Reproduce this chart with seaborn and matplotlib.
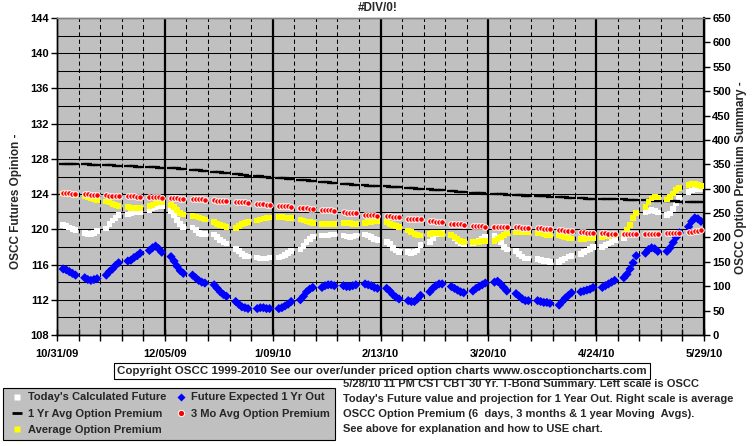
import pandas as pd
import matplotlib
matplotlib.use("Agg")
import matplotlib.pyplot as plt
from matplotlib.lines import Line2D
import seaborn as sns

# trading days, 30 weeks x 5 days
days = pd.bdate_range("2009-11-02", "2010-05-28")

# left scale: Today's Calculated Future (white squares)
calc_future = [
    120.5, 120.4, 120.2, 120.0, 119.9, 119.6, 119.5, 119.5, 119.6, 119.8,
    120.1, 120.6, 121.0, 121.3, 121.6, 121.7, 121.8, 121.9, 122.0, 122.0,
    122.2, 122.4, 122.5, 122.6, 122.6, 122.1, 121.6, 121.1, 120.6, 120.3,
    120.2, 119.9, 119.6, 119.5, 119.5, 119.4, 119.1, 118.8, 118.6, 118.4,
    117.8, 117.5, 117.2, 117.0, 116.9, 116.8, 116.7, 116.7, 116.7, 116.8,
    116.8, 116.9, 117.1, 117.3, 117.5, 117.7, 118.1, 118.6, 118.9, 119.2,
    119.3, 119.3, 119.3, 119.4, 119.4, 119.3, 119.2, 119.1, 119.2, 119.3,
    119.4, 119.3, 119.1, 118.9, 118.8, 118.6, 118.3, 117.9, 117.6, 117.4,
    117.4, 117.3, 117.4, 117.6, 118.2, 118.6, 119.0, 119.5, 119.6, 119.6,
    119.3, 119.0, 118.7, 118.4, 118.3, 118.4, 118.5, 118.7, 118.9, 119.2,
    119.3, 119.0, 118.5, 118.0, 117.7, 117.5, 117.2, 116.9, 116.7, 116.7,
    116.6, 116.5, 116.4, 116.4, 116.3, 116.3, 116.5, 116.7, 116.9, 117.0,
    117.2, 117.4, 117.6, 117.8, 118.0, 118.0, 118.2, 118.4, 118.6, 118.8,
    119.0, 119.5, 120.5, 121.3, 121.8, 122.0, 122.1, 122.2, 122.1, 121.9,
    121.6, 121.8, 122.3, 123.0, 123.6, 124.2, 124.4, 124.6, 124.7, 124.6,
]

# left scale: Future Expected 1 Yr Out (blue diamonds)
future_1yr = [
    115.5, 115.4, 115.2, 115.0, 114.8, 114.5, 114.3, 114.2, 114.3, 114.4,
    114.8, 115.2, 115.5, 115.9, 116.2, 116.4, 116.5, 116.8, 117.0, 117.3,
    117.6, 117.9, 118.1, 117.8, 117.4, 116.9, 116.4, 115.8, 115.3, 115.0,
    114.8, 114.5, 114.2, 114.0, 113.9, 113.7, 113.3, 112.9, 112.6, 112.4,
    111.8, 111.5, 111.2, 111.1, 111.0, 111.0, 111.1, 111.1, 111.0, 111.0,
    111.0, 111.1, 111.3, 111.5, 111.8, 112.0, 112.4, 112.9, 113.2, 113.4,
    113.4, 113.6, 113.7, 113.7, 113.6, 113.6, 113.5, 113.5, 113.6, 113.7,
    113.8, 113.7, 113.6, 113.4, 113.3, 113.3, 113.0, 112.6, 112.3, 112.1,
    111.9, 111.8, 111.8, 112.1, 112.5, 112.9, 113.3, 113.6, 113.8, 113.8,
    113.5, 113.3, 113.1, 112.9, 112.8, 113.0, 113.3, 113.5, 113.7, 113.9,
    114.0, 114.1, 113.8, 113.4, 113.0, 112.7, 112.4, 112.1, 111.9, 111.9,
    111.9, 111.8, 111.7, 111.7, 111.6, 111.4, 111.8, 112.2, 112.5, 112.8,
    112.9, 113.0, 113.1, 113.2, 113.4, 113.4, 113.6, 113.8, 114.0, 114.2,
    114.5, 114.9, 115.5, 116.2, 117.0, 117.3, 117.7, 117.9, 117.8, 117.5,
    117.5, 117.9, 118.5, 119.1, 119.6, 120.3, 120.9, 121.3, 121.2, 120.9,
]

# right scale: 1 Yr Avg Option Premium (black dashes)
prem_1yr = [
    351, 351, 351, 350, 350, 350, 350, 349, 349, 349,
    349, 348, 348, 347, 347, 347, 346, 346, 345, 345,
    344, 344, 344, 343, 343, 343, 342, 342, 341, 340,
    339, 338, 338, 337, 336, 335, 334, 334, 333, 332,
    331, 330, 329, 328, 327, 326, 325, 324, 323, 322,
    322, 321, 321, 320, 319, 318, 317, 317, 316, 315,
    314, 313, 313, 312, 311, 310, 309, 309, 308, 307,
    307, 306, 306, 305, 305, 305, 304, 304, 303, 303,
    302, 301, 301, 300, 300, 299, 298, 298, 297, 297,
    296, 295, 294, 294, 293, 292, 292, 291, 291, 290,
    290, 290, 289, 289, 288, 288, 287, 287, 286, 286,
    285, 285, 284, 284, 283, 283, 282, 282, 281, 281,
    280, 280, 279, 279, 279, 279, 278, 278, 278, 278,
    278, 277, 277, 277, 277, 276, 276, 276, 275, 275,
    275, 274, 274, 274, 273, 273, 273, 272, 272, 272,
]

# right scale: 3 Mo Avg Option Premium (red dots)
prem_3mo = [
    292, 291, 291, 290, 290, 289, 289, 288, 288, 288,
    287, 286, 286, 285, 285, 284, 284, 284, 283, 283,
    283, 282, 282, 282, 281, 281, 280, 280, 279, 279,
    279, 278, 278, 278, 277, 276, 275, 275, 274, 274,
    273, 273, 272, 272, 271, 269, 268, 268, 267, 267,
    265, 265, 264, 264, 263, 261, 260, 260, 259, 259,
    257, 257, 256, 256, 255, 252, 251, 251, 250, 250,
    247, 247, 246, 246, 245, 243, 243, 242, 242, 241,
    238, 238, 237, 237, 237, 233, 233, 232, 232, 231,
    228, 228, 227, 227, 226, 224, 224, 223, 223, 222,
    222, 222, 222, 221, 221, 221, 221, 220, 220, 220,
    219, 219, 218, 218, 218, 215, 215, 214, 214, 213,
    211, 211, 210, 210, 209, 209, 209, 208, 208, 208,
    207, 207, 207, 207, 207, 207, 207, 207, 207, 207,
    209, 209, 210, 210, 210, 211, 212, 213, 214, 215,
]

# right scale: Average Option Premium (yellow squares)
prem_avg = [
    290, 290, 289, 288, 286, 284, 282, 280, 278, 277,
    274, 272, 269, 266, 264, 262, 260, 260, 260, 261,
    264, 267, 270, 272, 273, 266, 262, 256, 250, 247,
    244, 243, 241, 239, 237, 231, 228, 225, 223, 222,
    220, 223, 227, 230, 232, 235, 237, 239, 240, 241,
    242, 242, 241, 240, 240, 237, 235, 233, 231, 229,
    228, 228, 228, 228, 228, 229, 229, 229, 228, 228,
    230, 231, 232, 233, 233, 231, 228, 225, 223, 221,
    214, 211, 207, 205, 204, 207, 209, 210, 209, 207,
    205, 201, 197, 193, 191, 190, 190, 191, 192, 193,
    193, 197, 201, 205, 208, 210, 210, 210, 210, 210,
    209, 208, 207, 205, 204, 205, 203, 201, 199, 198,
    197, 197, 198, 198, 199, 201, 202, 203, 204, 205,
    207, 215, 226, 240, 250, 263, 272, 280, 283, 282,
    278, 283, 290, 297, 301, 307, 310, 310, 308, 305,
]

week_lines = pd.date_range("2009-10-31", "2010-05-29", freq="7D")
major_dates = week_lines[::5]
major_labels = [f"{d.month}/{d.day:02d}/{d:%y}" for d in major_dates]

series_labels = [
    "Today's Calculated Future",
    "1 Yr Avg Option Premium",
    "Average Option Premium",
    "Future Expected 1 Yr Out",
    "3 Mo Avg Option Premium",
]

notes = [
    "5/28/10 11 PM CST CBT 30 Yr. T-Bond Summary. Left scale is OSCC",
    "Today's Future value and projection for 1 Year Out. Right scale is average",
    "OSCC Option Premium (6  days, 3 months & 1 year Moving  Avgs).",
    "See above for explanation and how to USE chart.",
]

sns.set_theme(style="white")
plt.rcParams["font.family"] = ["Liberation Sans", "DejaVu Sans"]
plt.rcParams["font.weight"] = "bold"

fig = plt.figure(figsize=(7.55, 4.46), dpi=100)
ax = fig.add_axes([57 / 755, 111 / 446, 647 / 755, 317 / 446])
ax.set_facecolor("#C0C0C0")
ax2 = ax.twinx()

# grid: solid every 2 on the left scale, weekly dashed, 5-weekly solid
for v in range(110, 144, 2):
    ax.axhline(v, color="black", lw=0.75, zorder=1)
for i, d in enumerate(week_lines[1:-1], start=1):
    if i % 5 == 0:
        ax.axvline(d, color="black", lw=1.6, zorder=1)
    else:
        ax.axvline(d, color="black", lw=0.75, ls=(0, (4, 3)), zorder=1)

# left scale series
sns.scatterplot(x=days, y=calc_future, marker="s", s=17, color="white",
                edgecolor="none", linewidth=0, zorder=3, ax=ax)
sns.scatterplot(x=days, y=future_1yr, marker="D", s=22, color="#0000FF",
                edgecolor="none", linewidth=0, zorder=4, ax=ax)

# right scale series
sns.scatterplot(x=days, y=prem_1yr, marker="_", s=36, color="black",
                linewidth=1.6, zorder=2, ax=ax2)
sns.scatterplot(x=days, y=prem_avg, marker="s", s=17, color="#FFFF00",
                edgecolor="none", linewidth=0, zorder=3, ax=ax2)
sns.scatterplot(x=days, y=prem_3mo, marker="o", s=16, color="#FF0000",
                edgecolor="white", linewidth=0.7, zorder=4, ax=ax2)

ax.set_xlim(week_lines[0], week_lines[-1])
ax.set_ylim(108, 144)
ax2.set_ylim(0, 650)
ax.set_yticks(range(108, 145, 4))
ax2.set_yticks(range(0, 651, 50))
ax.set_xticks(major_dates, major_labels)
ax.set_xticks(week_lines, minor=True)
ax.set_xlabel("")
ax.set_ylabel("")
ax2.set_ylabel("")

ax.tick_params(axis="y", left=True, direction="out", length=4, width=1,
               color="black", labelsize=8, pad=2, labelcolor="black")
ax2.tick_params(axis="y", right=True, direction="out", length=4, width=1,
                color="black", labelsize=8, pad=2, labelcolor="black")
ax.tick_params(axis="x", which="both", bottom=True, direction="inout",
               length=8, width=1, color="black", labelsize=8, pad=6,
               labelcolor="black")

for a in (ax, ax2):
    for side in ("left", "right", "bottom"):
        a.spines[side].set_color("black")
        a.spines[side].set_linewidth(1)
    a.spines["top"].set_color("#808080")
    a.spines["top"].set_linewidth(1)
ax2.spines["right"].set_linewidth(1.6)

fig.text(378 / 755, 1 - 8 / 446, "#DIV/0!", ha="center", va="center",
         fontsize=8.5, weight="bold")
fig.text(16 / 755, 1 - 201 / 446, "OSCC Futures Opinion -", rotation=90,
         ha="center", va="center", fontsize=8.5, weight="bold")
fig.text(741 / 755, 1 - 178 / 446, "OSCC Option Premium Summary -",
         rotation=90, ha="center", va="center", fontsize=8.5, weight="bold")

fig.text(382 / 755, 1 - 371 / 446,
         "Copyright OSCC 1999-2010 See our over/under priced option charts "
         "www.osccoptioncharts.com",
         ha="center", va="center", fontsize=8.25, weight="bold",
         bbox=dict(boxstyle="square,pad=0.3", facecolor="white",
                   edgecolor="black", linewidth=0.8))

for i, line in enumerate(notes):
    fig.text(343 / 755, 1 - (384 + 15 * i) / 446, line, ha="left",
             va="center", fontsize=8, weight="bold")

handles = [
    Line2D([], [], ls="", marker="s", ms=5, mfc="white", mec="none"),
    Line2D([], [], ls="", marker="_", ms=7, mew=2, color="black"),
    Line2D([], [], ls="", marker="s", ms=5, mfc="#FFFF00", mec="none"),
    Line2D([], [], ls="", marker="D", ms=4.5, mfc="#0000FF", mec="none"),
    Line2D([], [], ls="", marker="o", ms=4.5, mfc="#FF0000", mec="white",
           mew=0.7),
]
leg = fig.legend(handles, series_labels, ncol=2, loc="upper left",
                 bbox_to_anchor=(3 / 755, 1 - 388 / 446), frameon=True,
                 facecolor="#C0C0C0", edgecolor="black", framealpha=1,
                 fancybox=False, borderaxespad=0, handlelength=1.8,
                 handletextpad=0.05, columnspacing=0.4, labelspacing=0.58,
                 borderpad=0.4, prop={"weight": "bold", "size": 8})
leg.get_frame().set_linewidth(0.8)

fig.savefig("out.png", dpi=100, facecolor="white")
